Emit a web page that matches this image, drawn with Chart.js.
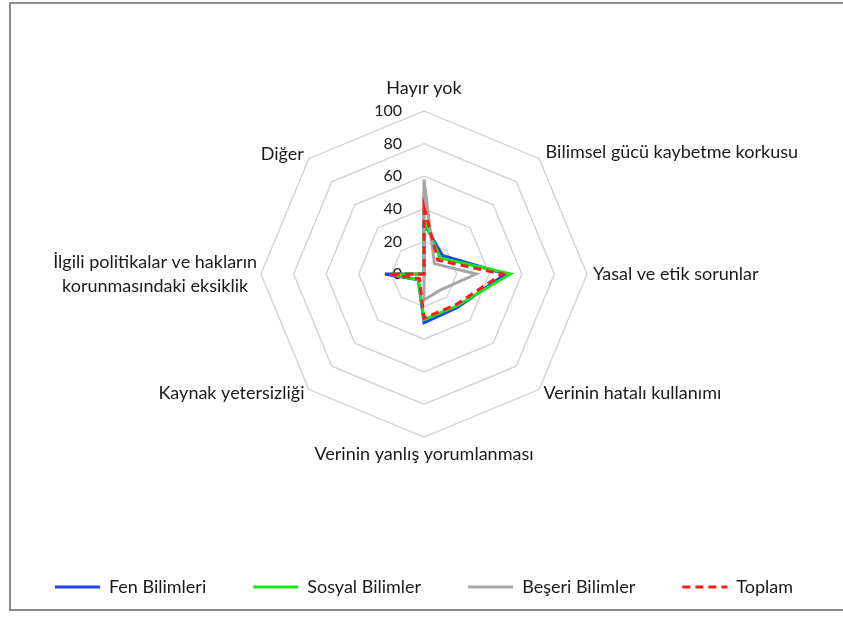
<!DOCTYPE html>
<html>
<head>
<meta charset="utf-8">
<script src="https://cdn.jsdelivr.net/npm/chart.js@4.4.1/dist/chart.umd.min.js"></script>
<style>
    html, body { margin: 0; padding: 0; background: #fff; overflow: hidden; }
    #wrap { position: relative; width: 843px; height: 619px; }
    #frame {
        position: absolute; left: 9px; top: 2px; width: 900px; height: 605px;
        border: 2px solid #8c8c8c; border-right: none; pointer-events: none;
    }
</style>
</head>
<body>
<div id="wrap">
    <canvas id="radarChart" width="843" height="619"></canvas>
    <div id="frame"></div>
</div>
<script>
// categories (clockwise from top)
const categories = [
    "Hayır yok",
    "Bilimsel gücü kaybetme korkusu",
    "Yasal ve etik sorunlar",
    "Verinin hatalı kullanımı",
    "Verinin yanlış yorumlanması",
    "Kaynak yetersizliği",
    ["İlgili politikalar ve hakların", "korunmasındaki eksiklik"],
    "Diğer"
];

// values (%)
const fenBilimleri    = [31, 16, 50, 29, 30, 5, 24, 0];
const sosyalBilimler  = [33, 14, 53, 28, 28, 5, 21, 0];
const beseriBilimler  = [58, 9, 32, 14, 16, 0, 0, 0];
const toplam          = [41, 12, 48, 27, 27, 4, 22, 0];

const tickValues = [0, 20, 40, 60, 80, 100];

const FONT = "Lato, 'Open Sans', sans-serif";

// labels around the web and the scale numbers on the left of the top axis
const radarText = {
    id: "radarText",
    beforeDatasetsDraw(chart) {
        const r = chart.scales.r;
        const ctx = chart.ctx;
        ctx.save();
        ctx.font = "16px " + FONT;
        ctx.fillStyle = "#1a1a1a";
        ctx.textAlign = "right";
        ctx.textBaseline = "middle";
        tickValues.forEach(v => {
            const d = r.getDistanceFromCenterForValue(v);
            ctx.fillText(String(v), r.xCenter - 22, r.yCenter - d);
        });
        ctx.restore();
    },
    afterDraw(chart) {
        const r = chart.scales.r;
        const ctx = chart.ctx;
        const gap = [23, 9, 6, 6, 17, 6, 4, 7];
        ctx.save();
        ctx.font = "18px " + FONT;
        ctx.fillStyle = "#1a1a1a";
        ctx.textBaseline = "middle";
        categories.forEach((label, i) => {
            const p = r.getPointPosition(i, r.drawingArea + gap[i]);
            const lines = Array.isArray(label) ? label : [label];
            const lh = 24;
            const maxW = Math.max(...lines.map(t => ctx.measureText(t).width));
            let cx;
            if (i === 0 || i === 4) cx = p.x;
            else if (i < 4) cx = p.x + maxW / 2;
            else cx = p.x - maxW / 2;
            ctx.textAlign = "center";
            const y0 = p.y - (lines.length - 1) * lh / 2;
            lines.forEach((t, k) => ctx.fillText(t, cx, y0 + k * lh));
        });
        ctx.restore();
    }
};

const ctx = document.getElementById("radarChart").getContext("2d");
new Chart(ctx, {
    type: "radar",
    data: {
        labels: categories,
        datasets: [
            {
                label: "Fen Bilimleri",
                data: fenBilimleri,
                borderColor: "#2040f8",
                borderWidth: 3,
                order: 4
            },
            {
                label: "Sosyal Bilimler",
                data: sosyalBilimler,
                borderColor: "#18e618",
                borderWidth: 3,
                order: 3
            },
            {
                label: "Beşeri Bilimler",
                data: beseriBilimler,
                borderColor: "#a6a6a6",
                borderWidth: 3,
                order: 2
            },
            {
                label: "Toplam",
                data: toplam,
                borderColor: "#ff1a1a",
                borderWidth: 3,
                borderDash: [8, 5],
                order: 1
            }
        ]
    },
    options: {
        responsive: false,
        animation: false,
        devicePixelRatio: 1,
        layout: { padding: { top: 111, left: 5, right: 0, bottom: 13 } },
        elements: {
            line: { fill: false, tension: 0, backgroundColor: "transparent", borderJoinStyle: "miter" },
            point: { radius: 0, hoverRadius: 0 }
        },
        scales: {
            r: {
                min: 0,
                max: 100,
                ticks: { stepSize: 20, display: false },
                grid: { color: "#d0d0d0", lineWidth: 1.3 },
                angleLines: { display: false },
                pointLabels: { display: false }
            }
        },
        plugins: {
            tooltip: { enabled: false },
            legend: {
                position: "bottom",
                title: { display: true, text: "", font: { size: 10 }, padding: { top: 0, bottom: 81 } },
                labels: {
                    usePointStyle: true,
                    pointStyle: "line",
                    pointStyleWidth: 45,
                    padding: 47,
                    color: "#1a1a1a",
                    font: { family: FONT, size: 18 },
                    sort: (a, b) => a.datasetIndex - b.datasetIndex,
                    generateLabels(chart) {
                        const items = Chart.defaults.plugins.legend.labels.generateLabels(chart);
                        items.forEach(item => {
                            const ds = chart.data.datasets[item.datasetIndex];
                            item.lineDash = ds.borderDash || [];
                            item.strokeStyle = ds.borderColor;
                            item.lineWidth = 3;
                        });
                        return items;
                    }
                }
            }
        }
    },
    plugins: [radarText]
});
</script>
</body>
</html>
